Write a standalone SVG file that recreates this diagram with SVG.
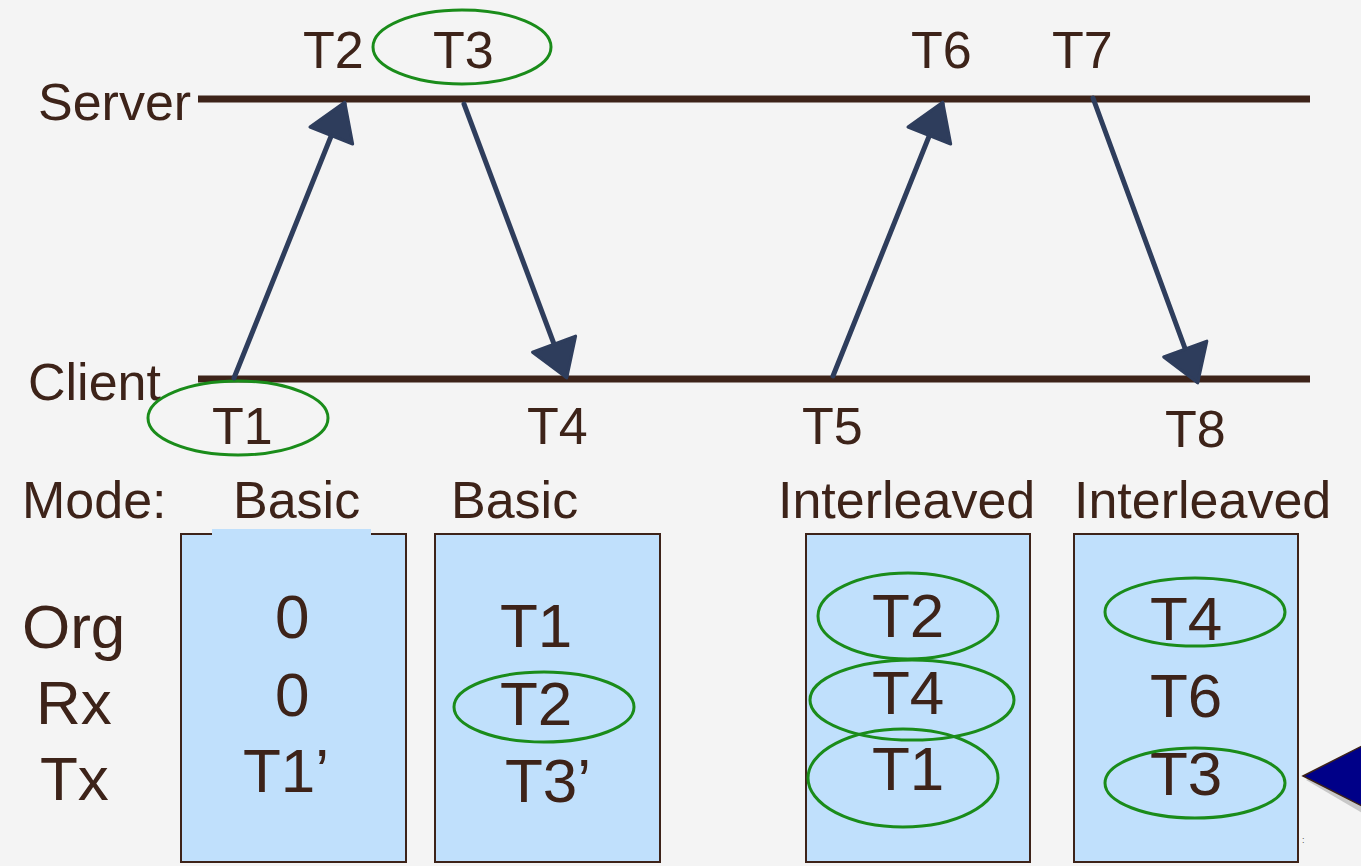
<svg xmlns="http://www.w3.org/2000/svg" width="1361" height="866" viewBox="0 0 1361 866">
<defs>
<style>
.t{font-family:"Liberation Sans",Arial,sans-serif;font-size:52px;fill:#3d2319}
.v{font-family:"Liberation Sans",Arial,sans-serif;font-size:62px;fill:#3d2319}
.tl{stroke:#3d2319;stroke-width:7;fill:none}
.box{fill:#c0e0fc;stroke:#3d2319;stroke-width:2}
.ov{fill:none;stroke:#1a8c1a;stroke-width:3}
.arr{stroke:#2e3d5c;stroke-width:5;fill:none;stroke-linecap:round;marker-end:url(#ah)}
</style>
<marker id="ah" markerUnits="userSpaceOnUse" viewBox="-2 -2 40 50" markerWidth="40" markerHeight="50" refX="34" refY="23" orient="auto">
<path d="M0,0 L36,23 L0,46 Z" fill="#2e3d5c" stroke="#2e3d5c" stroke-width="3" stroke-linejoin="round"/>
</marker>
</defs>
<rect width="1361" height="866" fill="#f4f4f4"/>
<g id="server">
<line class="tl" x1="198" y1="99" x2="1310" y2="99"/>
<text class="t" x="38" y="120">Server</text>
<text class="t" x="303" y="68">T2</text>
<text class="t" x="433" y="68">T3</text>
<ellipse class="ov" cx="462" cy="47" rx="89" ry="37"/>
<text class="t" x="911" y="68">T6</text>
<text class="t" x="1052" y="68">T7</text>
</g>
<g id="client">
<line class="tl" x1="198" y1="379" x2="1310" y2="379"/>
<text class="t" x="28" y="400">Client</text>
<text class="t" x="212" y="444">T1</text>
<ellipse class="ov" cx="238" cy="418" rx="90" ry="37"/>
<text class="t" x="527" y="444">T4</text>
<text class="t" x="802" y="444">T5</text>
<text class="t" x="1165" y="447">T8</text>
</g>
<g id="connectors">
<line class="arr" x1="234" y1="378" x2="344" y2="104"/>
<line class="arr" x1="464" y1="104" x2="566" y2="376"/>
<line class="arr" x1="833" y1="376" x2="942" y2="104"/>
<line class="arr" x1="1093" y1="98" x2="1197" y2="381"/>
</g>
<g id="modes">
<text class="t" x="22" y="518">Mode:</text>
<text class="t" x="233" y="518">Basic</text>
<text class="t" x="451" y="518">Basic</text>
<text class="t" x="778" y="518">Interleaved</text>
<text class="t" x="1074" y="518">Interleaved</text>
</g>
<g id="rowlabels">
<text class="v" x="22" y="648">Org</text>
<text class="v" x="36" y="724">Rx</text>
<text class="v" x="40" y="800">Tx</text>
</g>
<g id="box1">
<rect class="box" x="181" y="534" width="225" height="328"/>
<rect x="212" y="529" width="159" height="7" fill="#c0e0fc"/>
<text class="v" x="275" y="638">0</text>
<text class="v" x="275" y="716">0</text>
<text class="v" x="243" y="792">T1’</text>
</g>
<g id="box2">
<rect class="box" x="435" y="534" width="225" height="328"/>
<text class="v" x="500" y="647">T1</text>
<text class="v" x="500" y="725">T2</text>
<ellipse class="ov" cx="544" cy="707" rx="90" ry="35"/>
<text class="v" x="505" y="802">T3’</text>
</g>
<g id="box3">
<rect class="box" x="806" y="534" width="224" height="328"/>
<text class="v" x="872" y="637">T2</text>
<text class="v" x="872" y="714">T4</text>
<text class="v" x="872" y="790">T1</text>
<ellipse class="ov" cx="908" cy="616" rx="90" ry="43"/>
<ellipse class="ov" cx="912" cy="700" rx="102" ry="40"/>
<ellipse class="ov" cx="903" cy="778" rx="95" ry="49"/>
</g>
<g id="box4">
<rect class="box" x="1074" y="534" width="224" height="328"/>
<text class="v" x="1150" y="640">T4</text>
<text class="v" x="1150" y="717">T6</text>
<text class="v" x="1150" y="795">T3</text>
<ellipse class="ov" cx="1195" cy="612" rx="90" ry="34"/>
<ellipse class="ov" cx="1195" cy="783" rx="90" ry="35"/>
</g>
<g id="pointer">
<polygon points="1306,780 1364,751 1364,814" fill="#c8c8c8"/>
<polygon points="1303,776 1362,746 1362,806" fill="#000088" stroke="#3d2319" stroke-width="1.5"/>
<text x="1302" y="843" font-family="Liberation Sans, sans-serif" font-size="9" fill="#555">:</text>
</g>
</svg>
